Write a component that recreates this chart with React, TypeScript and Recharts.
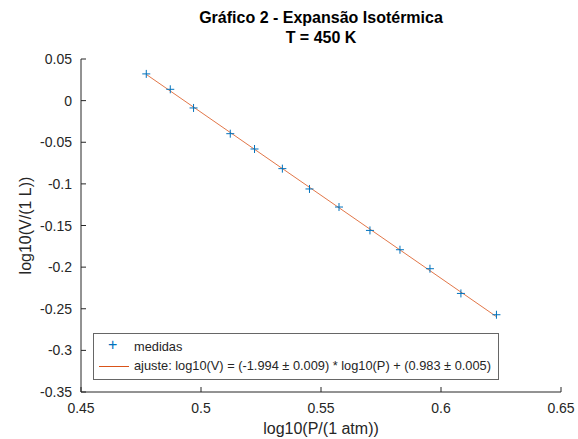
import { ScatterChart, Scatter, XAxis, YAxis } from "recharts"

// leitura do gráfico: log10(P/1 atm) vs log10(V/1 L)
const logP = [0.4772, 0.4872, 0.4969, 0.5122, 0.5223, 0.5339, 0.5452, 0.5575, 0.5704, 0.5829, 0.5954, 0.6083, 0.6231]
const logV = [0.0321, 0.0136, -0.0088, -0.0397, -0.0581, -0.0817, -0.1061, -0.1278, -0.1559, -0.1791, -0.2019, -0.2316, -0.2572]

// reta de ajuste (extremos)
const fitP = [0.4772, 0.6231]
const fitV = [0.0315, -0.2595]

const xTicks = [0.45, 0.5, 0.55, 0.6, 0.65]
const yTicks = [0.05, 0, -0.05, -0.1, -0.15, -0.2, -0.25, -0.3, -0.35]

const medidas = logP.map((p, i) => ({ x: p, y: logV[i] }))
const ajuste = fitP.map((p, i) => ({ x: p, y: fitV[i] }))

const font = '"Liberation Sans", Arial, Helvetica, sans-serif'
const axisColor = "#262626"
const blue = "#0072BD"
const orange = "#D95319"

const fmt = (v: number) => String(Number(v.toFixed(2)))

function Cross(props: any) {
  const { cx, cy } = props
  if (cx == null || cy == null) return null
  return (
    <g stroke={blue} strokeWidth={1}>
      <line x1={cx - 4} y1={cy} x2={cx + 4} y2={cy} />
      <line x1={cx} y1={cy - 4} x2={cx} y2={cy + 4} />
    </g>
  )
}

function XTick(props: any) {
  const { x, y, payload } = props
  return (
    <g>
      <line x1={x} y1={y} x2={x} y2={y - 5} stroke={axisColor} />
      <text x={x} y={y + 21} textAnchor="middle" fontSize={14} fill={axisColor} fontFamily={font}>
        {fmt(payload.value)}
      </text>
    </g>
  )
}

function YTick(props: any) {
  const { x, y, payload } = props
  return (
    <g>
      <line x1={x} y1={y} x2={x + 5} y2={y} stroke={axisColor} />
      <text x={x - 9} y={y + 5} textAnchor="end" fontSize={14} fill={axisColor} fontFamily={font}>
        {fmt(payload.value)}
      </text>
    </g>
  )
}

export default function App() {
  return (
    <div style={{ position: "fixed", left: 0, top: 0, width: 578, height: 439, background: "#fff", fontFamily: font }}>
      <div style={{ position: "absolute", left: 81, width: 480, top: 8, textAlign: "center", fontWeight: "bold", fontSize: 16, lineHeight: "20px", color: "#000" }}>
        <div>Gráfico 2 - Expansão Isotérmica</div>
        <div>T = 450 K</div>
      </div>
      <ScatterChart width={578} height={439} margin={{ top: 59, right: 17, bottom: 0, left: 0 }}>
        <XAxis
          type="number"
          dataKey="x"
          domain={[0.45, 0.65]}
          ticks={xTicks}
          allowDataOverflow
          height={47}
          tickSize={0}
          tickMargin={0}
          tick={<XTick />}
          stroke={axisColor}
          label={{
            content: (p: any) => {
              const vb = p.viewBox
              return (
                <text x={vb.x + vb.width / 2} y={vb.y + 42} textAnchor="middle" fontSize={16} fill={axisColor} fontFamily={font}>
                  log10(P/(1 atm))
                </text>
              )
            },
          }}
        />
        <YAxis
          type="number"
          dataKey="y"
          domain={[-0.35, 0.05]}
          ticks={yTicks}
          allowDataOverflow
          width={81}
          tickSize={0}
          tickMargin={0}
          tick={<YTick />}
          stroke={axisColor}
          label={{
            content: (p: any) => {
              const vb = p.viewBox
              const cy = vb.y + vb.height / 2
              return (
                <text x={31} y={cy} transform={`rotate(-90 31 ${cy})`} textAnchor="middle" fontSize={16} fill={axisColor} fontFamily={font}>
                  log10(V/(1 L))
                </text>
              )
            },
          }}
        />
        <Scatter data={ajuste} line={{ stroke: orange, strokeWidth: 0.8 }} shape={() => null} isAnimationActive={false} />
        <Scatter data={medidas} shape={<Cross />} isAnimationActive={false} />
      </ScatterChart>
      <div
        style={{
          position: "absolute",
          left: 93,
          top: 333,
          width: 406,
          height: 47,
          border: "1px solid #666",
          boxSizing: "border-box",
          background: "#fff",
          fontSize: 12.8,
          color: axisColor,
        }}
      >
        <div style={{ position: "absolute", left: 14, top: 3, color: blue, fontSize: 16, lineHeight: "16px" }}>+</div>
        <div style={{ position: "absolute", left: 40, top: 5, lineHeight: "16px" }}>medidas</div>
        <div style={{ position: "absolute", left: 5, top: 32, width: 30, height: 1, background: orange }} />
        <div style={{ position: "absolute", left: 40, top: 24, lineHeight: "16px", whiteSpace: "nowrap" }}>
          ajuste: log10(V) = (-1.994 ± 0.009) * log10(P) + (0.983 ± 0.005)
        </div>
      </div>
    </div>
  )
}
